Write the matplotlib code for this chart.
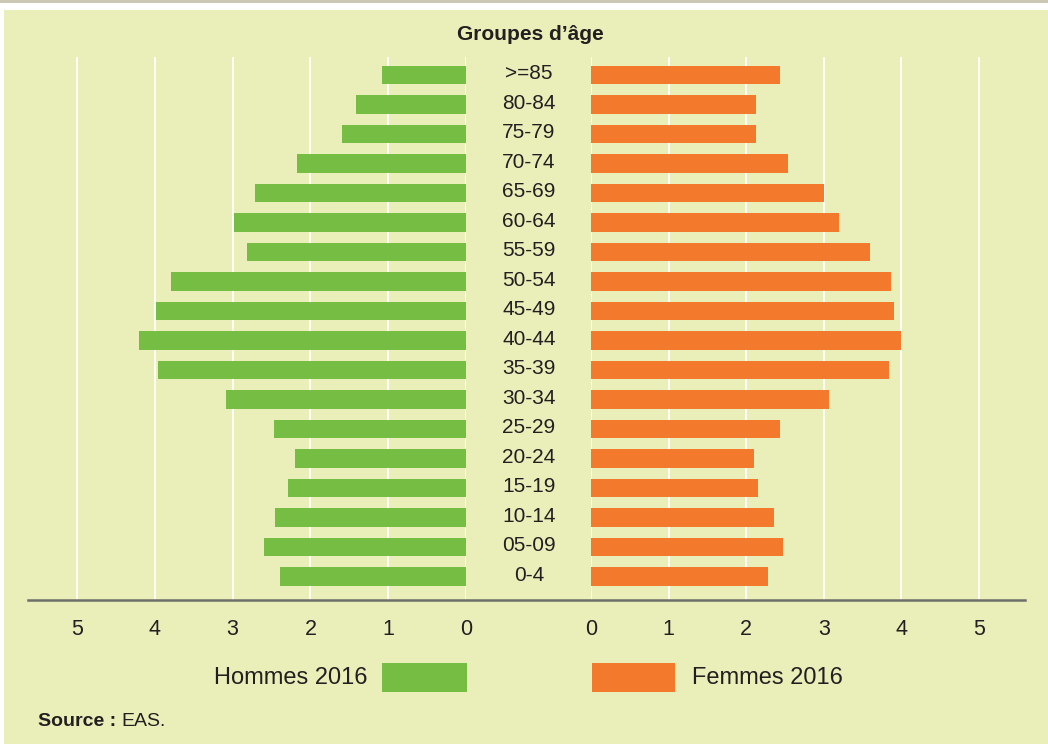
import matplotlib
matplotlib.use("Agg")
import matplotlib.pyplot as plt
from matplotlib.patches import Rectangle
from matplotlib.lines import Line2D
import matplotlib.transforms as mtransforms

plt.rcParams['font.family'] = ['Liberation Sans', 'DejaVu Sans']

# ---- data ----
age_groups = ["0-4", "05-09", "10-14", "15-19", "20-24", "25-29", "30-34", "35-39",
              "40-44", "45-49", "50-54", "55-59", "60-64", "65-69", "70-74", "75-79",
              "80-84", ">=85"]
hommes = [2.39, 2.60, 2.46, 2.29, 2.20, 2.47, 3.08, 3.96,
          4.20, 3.98, 3.79, 2.81, 2.98, 2.71, 2.17, 1.59, 1.41, 1.08]
femmes = [2.28, 2.47, 2.36, 2.15, 2.10, 2.44, 3.07, 3.84,
          4.00, 3.90, 3.87, 3.60, 3.20, 3.00, 2.54, 2.13, 2.13, 2.44]
ticks = [0, 1, 2, 3, 4, 5]
tick_labels = ["0", "1", "2", "3", "4", "5"]
title = "Groupes d\u2019âge"
legend_h = "Hommes 2016"
legend_f = "Femmes 2016"

BG = "#EAEFBA"
GREEN = "#76BD43"
ORANGE = "#F37A2C"
TXT = "#231F20"

W, H = 1048, 744
fig = plt.figure(figsize=(W / 100, H / 100), dpi=100, facecolor="white")

def fx(px):
    return px / W

def fy(py):
    return 1 - py / H

# background panel and top band
fig.patches.append(Rectangle((fx(4), 0), 1 - fx(4), fy(10), transform=fig.transFigure,
                             facecolor=BG, edgecolor="none", zorder=-10))
fig.patches.append(Rectangle((0, fy(3)), 1, fy(0) - fy(3), transform=fig.transFigure,
                             facecolor="#CCC8B6", edgecolor="none", zorder=-10))

y_top, y_bot = 57, 600
unitL = 77.8
unitR = 77.6
axL = fig.add_axes([fx(28), fy(y_bot), fx(466 - 28), fy(y_top) - fy(y_bot)])
axR = fig.add_axes([fx(591), fy(y_bot), fx(1025 - 591), fy(y_top) - fy(y_bot)])

n = len(age_groups)
ypos = list(range(n))
ylim = (-0.80, n - 1 + 0.61)

axL.barh(ypos, hommes, height=0.63, color=GREEN, zorder=3)
axL.set_xlim((466 - 28) / unitL, 0)
axR.barh(ypos, femmes, height=0.63, color=ORANGE, zorder=3)
axR.set_xlim(0, (1025 - 591) / unitR)

for ax in (axL, axR):
    ax.set_ylim(*ylim)
    ax.set_facecolor("none")
    for s in ax.spines.values():
        s.set_visible(False)
    ax.set_yticks([])
    ax.set_xticks(ticks)
    ax.set_xticklabels(tick_labels)
    ax.tick_params(axis="x", length=0, pad=14, labelsize=15.5, labelcolor=TXT)
    ax.grid(axis="x", color="white", linewidth=1.2, zorder=1)
    ax.set_axisbelow(True)

# age group labels in the middle
trans = mtransforms.blended_transform_factory(fig.transFigure, axL.transData)
for y, lab in zip(ypos, age_groups):
    fig.text(fx(529), y + 0.04, lab, transform=trans, ha="center", va="center",
             fontsize=15, color=TXT)

# title
fig.text(fx(530), fy(34), title, ha="center", va="center", fontsize=15,
         fontweight="bold", color=TXT)

# axis line
fig.add_artist(Line2D([fx(28), fx(1025)], [fy(600), fy(600)], transform=fig.transFigure,
                      color="#6E6E6A", linewidth=1.8, zorder=5))

# legend
fig.patches.append(Rectangle((fx(382), fy(692)), fx(467 - 382), fy(663) - fy(692),
                             transform=fig.transFigure, facecolor=GREEN, edgecolor="none"))
fig.patches.append(Rectangle((fx(592), fy(692)), fx(675 - 592), fy(663) - fy(692),
                             transform=fig.transFigure, facecolor=ORANGE, edgecolor="none"))
fig.text(fx(367), fy(678), legend_h, ha="right", va="center", fontsize=17, color=TXT)
fig.text(fx(692), fy(678), legend_f, ha="left", va="center", fontsize=17, color=TXT)

# source
t1 = fig.text(fx(38), fy(721), "Source :", ha="left", va="center", fontsize=14,
              fontweight="bold", color=TXT)
fig.canvas.draw()
bb = t1.get_window_extent()
fig.text(bb.x1 / W + fx(5), fy(721), "EAS.", ha="left", va="center", fontsize=14, color=TXT)

fig.savefig("out.png", dpi=100, facecolor="white")
